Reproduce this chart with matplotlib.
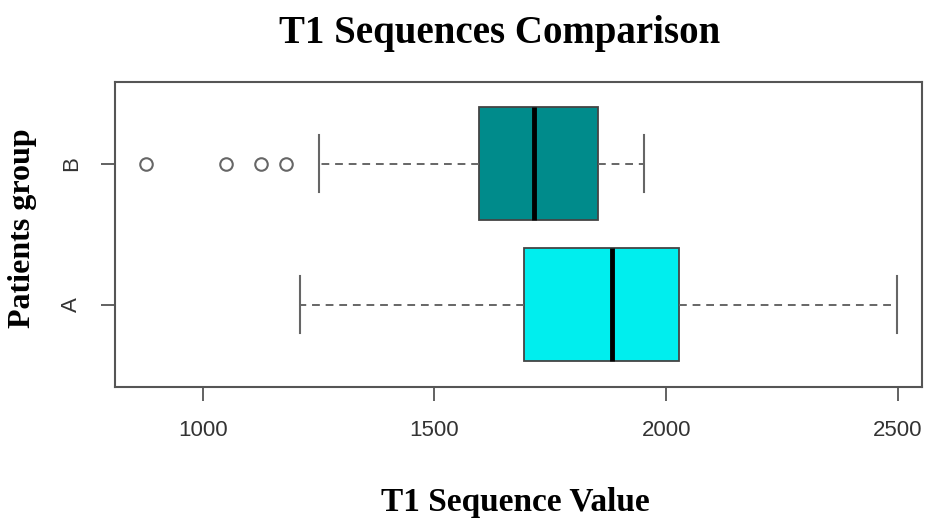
import matplotlib.pyplot as plt

# group stats (R-style horizontal boxplot)
groups = ['A', 'B']
colors = ['#00EEEE', '#008B8B']
whislo = [1210, 1251]
q1 = [1694, 1595]
med = [1882, 1715]
q3 = [2027, 1853]
whishi = [2498, 1953]
fliers = [[], [877, 1050, 1125, 1179]]

stats = []
for i, g in enumerate(groups):
    stats.append(dict(label=g, whislo=whislo[i], q1=q1[i], med=med[i],
                      q3=q3[i], whishi=whishi[i], fliers=fliers[i]))

fig = plt.figure(figsize=(9.27, 5.21), dpi=100)
ax = fig.add_axes([115 / 927, 1 - 386.5 / 521, 807 / 927, 304.8 / 521])

edge = '#444444'
bp = ax.bxp(stats, positions=[1, 2], widths=0.8, vert=False, patch_artist=True,
            showcaps=True, showfliers=True,
            boxprops=dict(edgecolor=edge, linewidth=1.3),
            medianprops=dict(color='black', linewidth=3.5),
            whiskerprops=dict(color='#666666', linestyle=(0, (4, 3)), linewidth=1.4),
            capprops=dict(color='#666666', linewidth=1.5),
            flierprops=dict(marker='o', markerfacecolor='none', markeredgecolor='#666666',
                            markersize=9, markeredgewidth=1.5))
for patch, c in zip(bp['boxes'], colors):
    patch.set_facecolor(c)

ax.set_xlim(810.6, 2552)
ax.set_ylim(0.42, 2.58)
ax.set_xticks([1000, 1500, 2000, 2500])
ax.set_yticks([1, 2])
ax.set_yticklabels(groups, rotation=90, va='center')
for s in ax.spines.values():
    s.set_color('#555555')
    s.set_linewidth(1.5)
ax.tick_params(axis='both', length=10, width=1.3, color='#555555',
               labelsize=16, labelcolor='#333333', pad=14)
for lab in ax.get_xticklabels() + ax.get_yticklabels():
    lab.set_fontfamily('Liberation Sans')

fig.text(500 / 927, 1 - 43 / 521, 'T1 Sequences Comparison', ha='center', va='baseline',
         fontfamily='Liberation Serif', fontweight='bold', fontsize=28)
fig.text(515 / 927, 1 - 511 / 521, 'T1 Sequence Value', ha='center', va='baseline',
         fontfamily='Liberation Serif', fontweight='bold', fontsize=24)
fig.text(23 / 927, 1 - 228 / 521, 'Patients group', ha='center', va='center', rotation=90,
         fontfamily='Liberation Serif', fontweight='bold', fontsize=23)

fig.savefig('out.png', dpi=100)
